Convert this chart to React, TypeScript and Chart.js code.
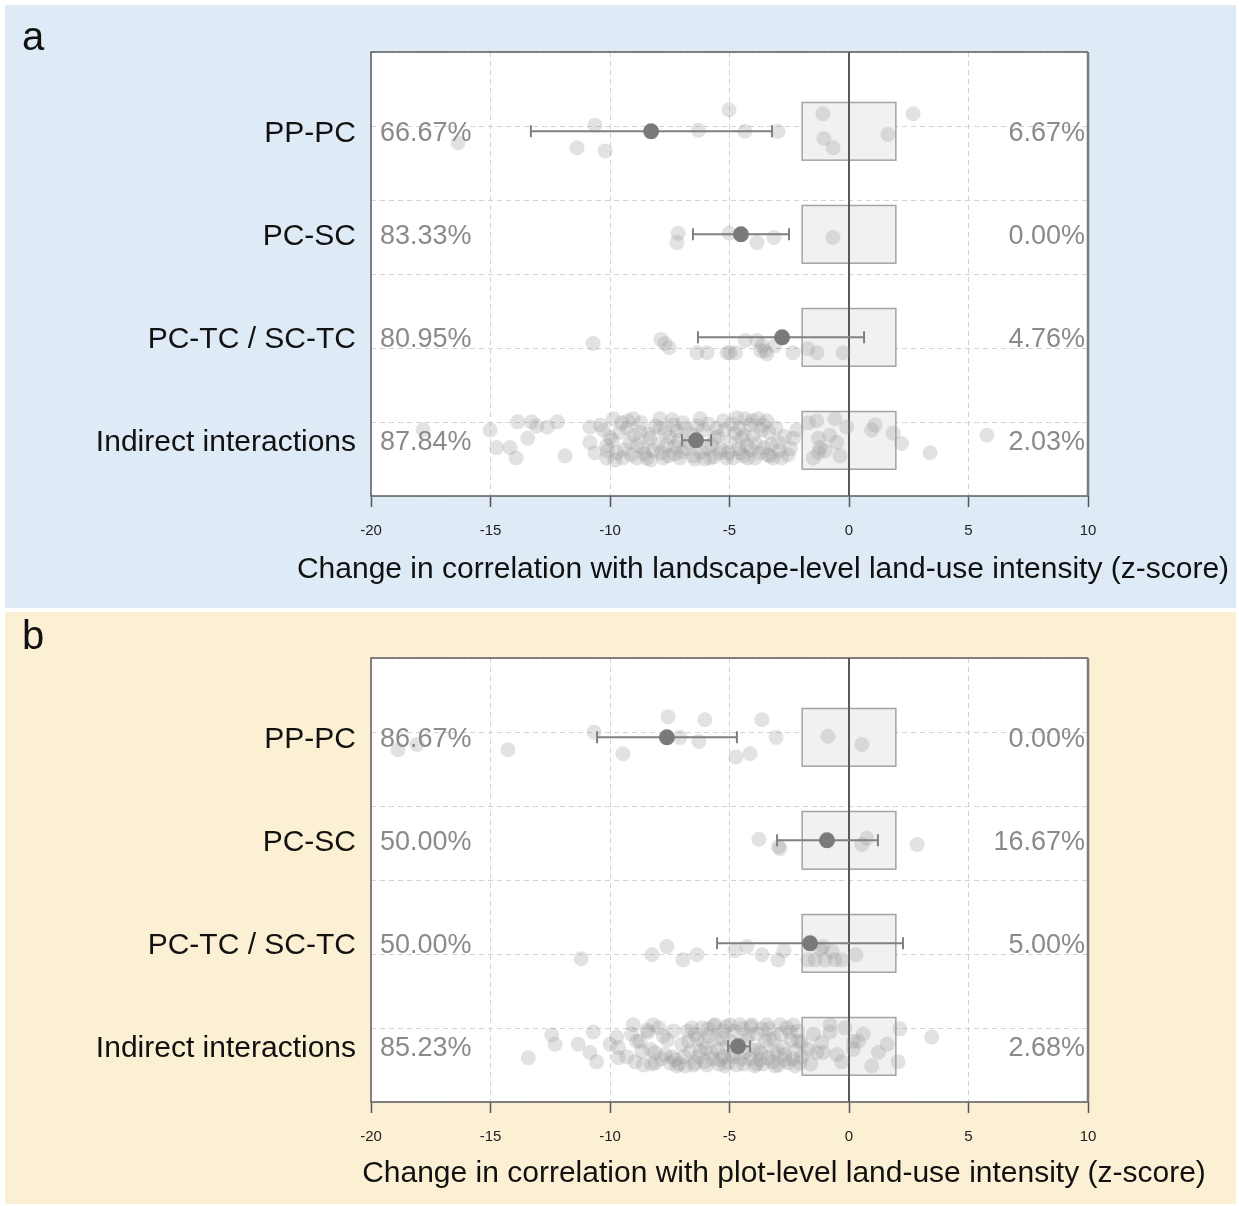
import React, { useEffect, useRef } from "react";
import { Chart, registerables } from "chart.js";

Chart.register(...registerables);

// ---------------- data ----------------
const categories = ["PP-PC", "PC-SC", "PC-TC / SC-TC", "Indirect interactions"];
const xTickValues = [-20, -15, -10, -5, 0, 5, 10];

const negShareA = ["66.67%", "83.33%", "80.95%", "87.84%"];
const posShareA = ["6.67%", "0.00%", "4.76%", "2.03%"];
const negShareB = ["86.67%", "50.00%", "50.00%", "85.23%"];
const posShareB = ["0.00%", "16.67%", "5.00%", "2.68%"];

const meanA = [-8.28, -4.52, -2.8, -6.4];
const lowA = [-13.31, -6.53, -6.32, -6.99];
const highA = [-3.22, -2.51, 0.63, -5.77];
const meanB = [-7.62, -0.92, -1.63, -4.64];
const lowB = [-10.54, -3.01, -5.52, -5.06];
const highB = [-4.69, 1.21, 2.26, -4.14];

// [z-score, vertical jitter within row]
const ppPcA = [[-5.02,-0.21],[-1.09,-0.17],[2.68,-0.17],[1.63,0.03],[-1.05,0.07],[-0.67,0.16],[-4.35,0],[-2.97,0],[-10.63,-0.06],[-11.38,0.16],[-10.2,0.19],[-6.3,-0.01],[-16.36,0.11],[-26.5,0.05],[-32.0,-0.05]];
const pcScA = [[-7.15,-0.01],[-7.2,0.08],[-5.02,-0.01],[-3.85,0.08],[-3.14,0.03],[-0.67,0.03]];
const pcTcA = [[-10.71,0.06],[-7.87,0.02],[-7.7,0.06],[-7.53,0.1],[-6.36,0.15],[-5.94,0.15],[-5.1,0.15],[-4.98,0.15],[-4.75,0.15],[-4.35,0.03],[-3.85,0.03],[-3.64,0.08],[-3.51,0.13],[-3.43,0.16],[-3.7,0.13],[-3.1,0.08],[-2.34,0.15],[-1.72,0.11],[-1.34,0.15],[-0.25,0.15],[33.4,0.05]];
const indirectA = [
  [-17.82,-0.1],
  [-15.02,-0.1],[-14.74,0.07],[-14.18,0.07],[-13.93,0.17],[-13.86,-0.18],[-13.44,-0.02],[-13.28,-0.18],[-13.07,-0.14],[-12.62,-0.13],[-12.2,-0.18],[-11.88,0.15],
  [-10.84,-0.13],[-10.84,0.02],[-10.63,0.12],[-10.28,-0.1],[-10.14,0.05],[-10.14,0.17],[-10.0,-0.03],[-9.86,-0.21],[-9.72,0.12],[-9.51,-0.17],
  [-9.47,0.17],[-9.3,-0.12],[-9.16,0.02],[-9.03,-0.21],[-8.88,0.17],[-8.74,-0.08],[-8.61,0.07],[-8.46,0.17],[-8.33,-0.02],[-8.19,0.1],
  [-7.91,-0.21],[-7.91,-0.12],[-7.77,0.17],[-7.63,0.05],[-7.49,-0.03],[-7.35,-0.15],[-7.28,0.13],[-7.14,0],[-7.07,0.17],[-6.86,-0.12],
  [-6.79,0.08],[-6.51,0.15],[-6.23,-0.21],[-6.1,-0.1],[-5.95,0.08],[-5.82,0.17],[-5.61,-0.02],[-5.54,-0.12],[-5.4,0.12],[-5.26,-0.19],
  [-5.12,0.17],[-4.98,0.02],[-4.77,-0.07],[-4.7,-0.22],[-4.63,0.08],[-4.49,-0.02],[-4.42,0.15],[-4.35,-0.21],[-4.28,0.05],[-4.14,-0.15],
  [-4.0,-0.05],[-3.93,0.17],[-3.79,-0.21],[-3.65,-0.1],[-3.44,-0.19],[-3.31,0.15],[-3.17,0.17],[-2.96,0.02],[-2.82,0.17],[-2.33,-0.02],
  [-10.4,-0.15],[-10.1,0.1],[-9.9,0.0],[-9.8,0.19],[-9.6,-0.08],[-9.4,0.09],[-9.25,-0.19],[-9.1,0.14],[-9.0,-0.05],[-8.85,0.05],
  [-8.7,-0.17],[-8.55,0.13],[-8.4,-0.06],[-8.3,0.19],[-8.1,-0.14],[-8.0,0.04],[-7.85,0.12],[-7.7,-0.08],[-7.55,0.15],[-7.4,-0.2],
  [-7.3,0.06],[-7.2,-0.09],[-7.0,0.11],[-6.95,-0.17],[-6.7,0.02],[-6.6,-0.06],[-6.45,0.18],[-6.35,-0.14],[-6.2,0.11],[-6.05,0.18],
  [-5.9,-0.16],[-5.75,0.04],[-5.65,0.16],[-5.5,-0.04],[-5.35,0.09],[-5.2,-0.1],[-5.05,0.12],[-4.9,-0.16],[-4.85,0.17],[-4.6,-0.12],
  [-4.55,0.12],[-4.4,-0.05],[-4.25,0.17],[-4.1,0.09],[-4.05,-0.19],[-3.9,0.03],[-3.75,0.12],[-3.6,-0.15],[-3.55,0.07],[-3.4,0.14],
  [-3.35,-0.08],[-3.25,0.04],[-3.05,-0.12],[-2.9,0.1],[-2.7,-0.04],[-2.55,0.14],[-2.45,0.08],[-2.2,-0.1],
  [-1.7,-0.17],[-1.35,-0.19],[-1.28,-0.02],[-1.21,0.07],[-1.28,0.12],[-1.49,0.17],[-0.59,-0.21],[-0.51,0.02],[-0.38,0.15],[-0.1,-0.13],
  [0.95,-0.1],[1.09,-0.15],[1.85,-0.07],[-1.0,0.1],[-0.8,-0.05],
  [2.2,0.03],[3.39,0.12],[5.77,-0.05]
];

const ppPcB = [[-18.87,0.12],[-18.08,0.07],[-14.27,0.12],[-10.67,-0.05],[-9.46,0.16],[-7.57,-0.2],[-7.07,0],[-6.03,-0.17],[-6.28,0.04],[-3.64,-0.17],[-3.05,0],[-4.73,0.19],[-4.14,0.16],[-0.88,-0.01],[0.54,0.07]];
const pcScB = [[-3.77,-0.01],[-2.89,0.08],[-2.95,0.06],[0.75,-0.02],[0.54,0.04],[2.85,0.04]];
const pcTcB = [[-11.21,0.15],[-8.24,0.11],[-7.62,0.03],[-6.95,0.16],[-6.36,0.11],[-4.77,0.07],[-4.27,0.03],[-3.64,0.11],[-2.97,0.16],[-2.72,0.07],[-1.72,0.16],[-1.42,0.16],[-1.09,0.03],[-1.0,0.16],[-0.71,0.08],[-0.59,0.16],[-0.29,0.16],[0.29,0.11],[-1.2,0.06],[33.9,0.05]];
const indirectB = [
  [-13.42,0.11],[-12.44,-0.11],[-12.3,-0.02],[-11.33,-0.02],[-10.84,0.06],[-10.7,-0.14],[-10.56,0.15],[-10.0,-0.02],[-9.72,-0.09],[-9.65,0.11],
  [-9.65,0.01],[-9.03,-0.21],[-8.88,-0.05],[-8.67,0.05],[-8.4,-0.14],[-8.26,0.17],[-8.19,-0.21],[-8.12,0.06],[-7.77,-0.1],[-7.7,0.08],
  [-7.49,0.16],[-7.28,0.13],[-7.21,0.19],[-6.86,0.19],[-6.72,-0.05],[-6.58,-0.18],[-6.44,-0.12],[-6.44,0.16],[-6.23,0.05],[-6.1,-0.04],
  [-6.03,0.15],[-5.89,-0.17],[-5.75,0.06],[-5.61,-0.21],[-5.54,-0.07],[-5.4,0.13],[-5.26,-0.15],[-5.19,0.19],[-5.12,0.01],[-4.98,-0.21],
  [-4.84,0.1],[-4.56,-0.21],[-4.35,0.06],[-4.21,-0.1],[-4.07,-0.21],[-3.86,0.17],[-3.79,0.03],[-3.72,0.13],[-3.65,-0.17],[-3.44,-0.21],
  [-3.31,-0.07],[-3.17,0.06],[-3.1,0.19],[-2.89,-0.21],[-2.75,0.01],[-2.68,0.13],[-2.47,-0.14],[-2.33,-0.21],[-2.26,0.19],[-2.12,-0.05],[-1.98,0.1],
  [-9.3,0.1],[-9.1,-0.12],[-8.95,0.15],[-8.75,-0.05],[-8.6,0.18],[-8.45,-0.16],[-8.3,0.03],[-8.1,0.16],[-7.95,-0.18],[-7.85,0.12],
  [-7.6,-0.06],[-7.4,0.1],[-7.35,-0.15],[-7.1,0.17],[-7.0,-0.02],[-6.9,0.1],[-6.75,-0.15],[-6.65,0.05],[-6.5,0.18],[-6.35,-0.07],
  [-6.3,0.1],[-6.15,-0.18],[-6.0,0.02],[-5.95,0.18],[-5.85,-0.1],[-5.7,0.12],[-5.65,-0.2],[-5.5,0.03],[-5.45,0.17],[-5.3,-0.08],
  [-5.25,0.1],[-5.15,-0.19],[-5.05,0.16],[-4.95,-0.05],[-4.9,0.08],[-4.8,-0.15],[-4.7,0.18],[-4.65,-0.02],[-4.5,0.12],[-4.45,-0.17],
  [-4.4,0.17],[-4.3,-0.06],[-4.15,0.12],[-4.1,-0.19],[-4.0,0.04],[-3.95,0.19],[-3.85,-0.12],[-3.7,0.06],[-3.6,0.17],[-3.5,-0.05],
  [-3.4,0.11],[-3.35,-0.17],[-3.2,0.15],[-3.15,-0.08],[-3.0,0.05],[-2.95,0.18],[-2.85,-0.12],[-2.7,0.08],[-2.6,-0.18],[-2.55,0.16],
  [-2.4,-0.06],[-2.35,0.12],[-2.2,0.04],[-2.15,-0.15],[-2.05,0.16],[-2.0,-0.04],
  [-1.7,0.03],[-1.49,-0.12],[-1.35,0.06],[-1.14,-0.04],[-1.08,0.06],[-0.79,-0.21],[-0.79,-0.14],[-0.31,0.15],[-0.17,-0.18],[0.18,-0.05],
  [0.39,-0.05],[0.18,0.03],[0.95,0.19],[1.23,0.06],[-0.5,0.08],[0.6,-0.12],[-1.6,0.17],[1.6,-0.02],
  [2.05,0.15],[2.13,-0.17],[3.46,-0.09],[11.5,0.0]
];

const titleA = "Change in correlation with landscape-level land-use intensity (z-score)";
const titleB = "Change in correlation with plot-level land-use intensity (z-score)";

// ---------------- styling / layout ----------------
const FONT = '"Liberation Sans", Arial, Helvetica, sans-serif';
const NARROW = '"Liberation Sans Narrow", "Arial Narrow", "Liberation Sans", sans-serif';
const Y_MIN = -0.77;
const Y_MAX = 3.54;
const SIG = 1.96;
const BOX_HALF = 0.28;

type Panel = {
  letter: string;
  bg: string;
  title: string;
  titleX: number;
  titleDy: number;
  letterY: number;
  rows: number[][][];
  mean: number[];
  low: number[];
  high: number[];
  neg: string[];
  pos: string[];
  padding: { left: number; right: number; top: number; bottom: number };
  width: number;
  height: number;
  left: number;
  top: number;
};

const panels: Panel[] = [
  {
    letter: "a", bg: "#deeaf5", title: titleA, titleX: 758, titleDy: 74, letterY: 34,
    rows: [ppPcA, pcScA, pcTcA, indirectA], mean: meanA, low: lowA, high: highA,
    neg: negShareA, pos: posShareA,
    padding: { left: 366, right: 148, top: 47, bottom: 62 },
    width: 1231, height: 603, left: 5, top: 5,
  },
  {
    letter: "b", bg: "#fcf0d4", title: titleB, titleX: 779, titleDy: 72, letterY: 26,
    rows: [ppPcB, pcScB, pcTcB, indirectB], mean: meanB, low: lowB, high: highB,
    neg: negShareB, pos: posShareB,
    padding: { left: 366, right: 148, top: 46, bottom: 52 },
    width: 1231, height: 592, left: 5, top: 612,
  },
];

function makeChart(canvas: HTMLCanvasElement, p: Panel) {
  const points: { x: number; y: number }[] = [];
  p.rows.forEach((row, i) => row.forEach(([z, j]) => points.push({ x: z, y: i + j })));
  const means = p.mean.map((m, i) => ({ x: m, y: i }));

  const decor = {
    id: "decor",
    beforeDraw(chart: any) {
      const { ctx, width, height, chartArea: a } = chart;
      ctx.save();
      ctx.fillStyle = p.bg;
      ctx.fillRect(0, 0, width, height);
      ctx.fillStyle = "#ffffff";
      ctx.fillRect(a.left, a.top, a.right - a.left, a.bottom - a.top);
      ctx.restore();
    },
    beforeDatasetsDraw(chart: any) {
      const { ctx, chartArea: a, scales } = chart;
      const xs = scales.x, ys = scales.y;
      ctx.save();
      categories.forEach((_, i) => {
        const x0 = xs.getPixelForValue(-SIG), x1 = xs.getPixelForValue(SIG);
        const y0 = ys.getPixelForValue(i - BOX_HALF), y1 = ys.getPixelForValue(i + BOX_HALF);
        ctx.fillStyle = "#f1f1f1";
        ctx.fillRect(x0, y0, x1 - x0, y1 - y0);
        ctx.strokeStyle = "#a3a3a3";
        ctx.lineWidth = 1.5;
        ctx.strokeRect(x0, y0, x1 - x0, y1 - y0);
      });
      const zx = xs.getPixelForValue(0);
      ctx.strokeStyle = "#5a5a5a";
      ctx.lineWidth = 2;
      ctx.beginPath();
      ctx.moveTo(zx, a.top);
      ctx.lineTo(zx, a.bottom);
      ctx.stroke();
      ctx.restore();
    },
    afterDatasetDraw(chart: any, args: any) {
      if (args.index !== 0) return;
      const { ctx, scales } = chart;
      const xs = scales.x, ys = scales.y;
      ctx.save();
      ctx.strokeStyle = "#808080";
      ctx.lineWidth = 2;
      p.mean.forEach((_, i) => {
        const y = ys.getPixelForValue(i);
        const xl = xs.getPixelForValue(p.low[i]);
        const xh = xs.getPixelForValue(p.high[i]);
        ctx.beginPath();
        ctx.moveTo(xl, y); ctx.lineTo(xh, y);
        ctx.moveTo(xl, y - 6); ctx.lineTo(xl, y + 6);
        ctx.moveTo(xh, y - 6); ctx.lineTo(xh, y + 6);
        ctx.stroke();
      });
      ctx.restore();
    },
    afterDraw(chart: any) {
      const { ctx, chartArea: a, scales } = chart;
      const ys = scales.y;
      ctx.save();
      ctx.strokeStyle = "#5c5c5c";
      ctx.lineWidth = 1.5;
      ctx.beginPath();
      ctx.moveTo(a.right, a.top); ctx.lineTo(a.left, a.top); ctx.lineTo(a.left, a.bottom); ctx.lineTo(a.right, a.bottom);
      ctx.stroke();
      ctx.strokeStyle = "#7c7c7c";
      ctx.lineWidth = 2.5;
      ctx.beginPath();
      ctx.moveTo(a.right, a.top); ctx.lineTo(a.right, a.bottom);
      ctx.stroke();

      ctx.textBaseline = "middle";
      categories.forEach((c, i) => {
        const y = ys.getPixelForValue(i) + 2;
        ctx.fillStyle = "#111111";
        ctx.font = `30px ${FONT}`;
        ctx.textAlign = "right";
        ctx.fillText(c, a.left - 15, y);
        ctx.fillStyle = "#8a8a8a";
        ctx.font = `27px ${FONT}`;
        ctx.textAlign = "left";
        ctx.fillText(p.neg[i], a.left + 9, y);
        ctx.textAlign = "right";
        ctx.fillText(p.pos[i], a.right - 3, y);
      });
      ctx.fillStyle = "#111111";
      ctx.font = `30px ${FONT}`;
      ctx.textAlign = "center";
      ctx.fillText(p.title, p.titleX, a.bottom + p.titleDy);
      ctx.font = `40px ${FONT}`;
      ctx.fillText(p.letter, 28, p.letterY);
      ctx.restore();
    },
  };

  return new Chart(canvas, {
    type: "scatter",
    data: {
      datasets: [
        {
          data: points,
          pointRadius: 7.5,
          pointBackgroundColor: "rgba(150,150,150,0.28)",
          pointBorderWidth: 0,
          borderWidth: 0,
          order: 2,
        } as any,
        {
          data: means,
          pointRadius: 8,
          pointBackgroundColor: "#7a7a7a",
          pointBorderWidth: 0,
          borderWidth: 0,
          order: 1,
        } as any,
      ],
    },
    options: {
      responsive: false,
      animation: false,
      events: [],
      layout: { padding: p.padding },
      plugins: { legend: { display: false }, tooltip: { enabled: false }, title: { display: false } },
      scales: {
        x: {
          type: "linear",
          position: "bottom",
          min: -20,
          max: 10,
          afterFit: (s: any) => { s.height = 50; },
          afterBuildTicks: (s: any) => { s.ticks = xTickValues.map((v) => ({ value: v })); },
          ticks: {
            color: "#222222",
            font: { family: NARROW, size: 15 },
            padding: 15,
            maxRotation: 0,
            autoSkip: false,
            callback: (v: any) => String(v),
          },
          grid: {
            color: "#d2d2d2",
            lineWidth: 1,
            tickColor: "#555555",
            tickLength: 11,
            tickWidth: 1.5,
            tickBorderDash: [],
          },
          border: { display: false, dash: [5, 4] },
        },
        y: {
          type: "linear",
          position: "left",
          min: Y_MIN,
          max: Y_MAX,
          reverse: true,
          afterFit: (s: any) => { s.width = 0; },
          afterBuildTicks: (s: any) => {
            s.ticks = [0, 1, 2, 3, 4, 5, 6].map((k) => ({ value: Y_MIN + (k * (Y_MAX - Y_MIN)) / 6 }));
          },
          ticks: { display: false },
          grid: { color: "#d2d2d2", lineWidth: 1, drawTicks: false },
          border: { display: false, dash: [5, 4] },
        },
      },
    },
    plugins: [decor],
  } as any);
}

function PanelChart({ p }: { p: Panel }) {
  const ref = useRef<HTMLCanvasElement | null>(null);
  useEffect(() => {
    if (!ref.current) return;
    const chart = makeChart(ref.current, p);
    return () => chart.destroy();
  }, [p]);
  return (
    <canvas
      ref={ref}
      width={p.width}
      height={p.height}
      style={{ position: "absolute", left: p.left, top: p.top, width: p.width, height: p.height, display: "block" }}
    />
  );
}

export default function App() {
  return (
    <div style={{ position: "absolute", left: 0, top: 0, width: 1239, height: 1206, background: "#ffffff" }}>
      {panels.map((p) => (
        <PanelChart key={p.letter} p={p} />
      ))}
    </div>
  );
}
